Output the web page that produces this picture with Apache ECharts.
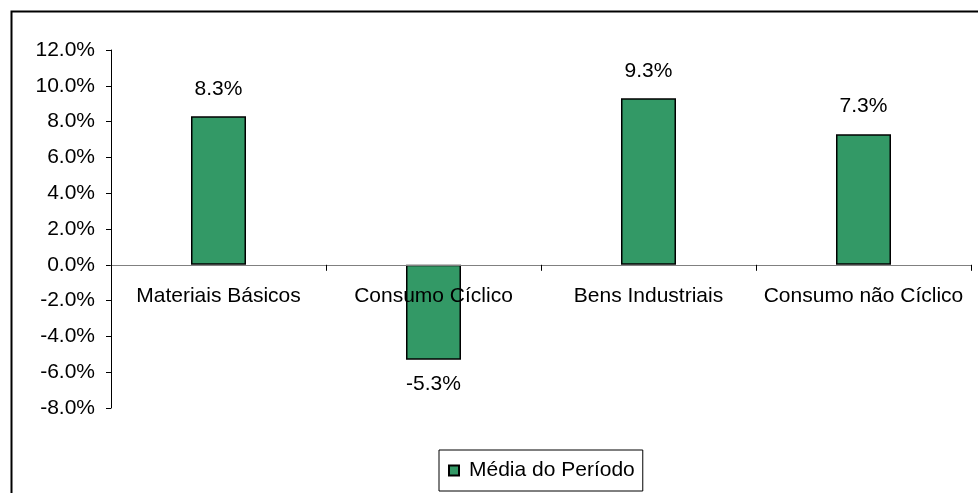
<!DOCTYPE html>
<html>
<head>
<meta charset="utf-8">
<script src="https://cdn.jsdelivr.net/npm/echarts@6/dist/echarts.min.js"></script>
<style>
  html, body { margin: 0; padding: 0; background: #fff; }
  #chart { width: 978px; height: 493px; }
</style>
</head>
<body>
<div id="chart"></div>
<script>
// Sector categories and period averages (%)
const categories = ['Materiais Básicos', 'Consumo Cíclico', 'Bens Industriais', 'Consumo não Cíclico'];
const mediaPeriodo = [8.3, -5.3, 9.3, 7.3];
const seriesName = 'Média do Período';
const yMin = -8, yMax = 12, yStep = 2;

const FONT = 'Liberation Sans, Arial, sans-serif';
const chart = echarts.init(document.getElementById('chart'), null, { renderer: 'canvas' });

const barData = mediaPeriodo.map(v => ({
  value: v,
  label: { position: v < 0 ? 'bottom' : 'top', distance: v < 0 ? 14 : 17 }
}));

chart.setOption({
  animation: false,
  backgroundColor: '#ffffff',
  textStyle: { fontFamily: FONT },
  graphic: [{
    type: 'rect',
    left: 9, top: 9,
    shape: { width: 1000, height: 520 },
    style: { fill: 'none', stroke: '#000', lineWidth: 2 },
    silent: true,
    z: -1
  }],
  grid: { left: 111, right: 7, top: 50, bottom: 85 },
  legend: {
    data: [seriesName],
    left: 439, top: 450,
    orient: 'horizontal',
    icon: 'rect',
    itemWidth: 10, itemHeight: 10,
    itemGap: 10,
    padding: [10, 8, 10, 9],
    borderColor: '#000', borderWidth: 1,
    textStyle: { fontSize: 21, color: '#000', fontFamily: FONT, padding: [0, 0, 0, 5] }
  },
  xAxis: {
    type: 'category',
    data: categories,
    z: 10,
    axisLine: { onZero: true, lineStyle: { color: '#808080', width: 1 } },
    axisTick: { show: true, length: 6, lineStyle: { color: '#000' } },
    // category names sit just under the zero line
    axisLabel: { color: '#000', fontSize: 21, margin: -122, fontFamily: FONT, interval: 0 },
    splitLine: { show: false }
  },
  yAxis: {
    type: 'value',
    min: yMin, max: yMax, interval: yStep,
    axisLine: { show: true, lineStyle: { color: '#000', width: 1 } },
    axisTick: { show: true, length: 5, lineStyle: { color: '#000' } },
    axisLabel: {
      color: '#000', fontSize: 21, margin: 16, fontFamily: FONT,
      formatter: v => v.toFixed(1) + '%'
    },
    splitLine: { show: false }
  },
  series: [{
    name: seriesName,
    type: 'bar',
    data: barData,
    barWidth: 55,
    itemStyle: { color: '#339966', borderColor: '#000', borderWidth: 1.5 },
    label: {
      show: true,
      color: '#000',
      fontSize: 21,
      fontFamily: FONT,
      formatter: p => p.value.toFixed(1) + '%'
    }
  }]
});
</script>
</body>
</html>
